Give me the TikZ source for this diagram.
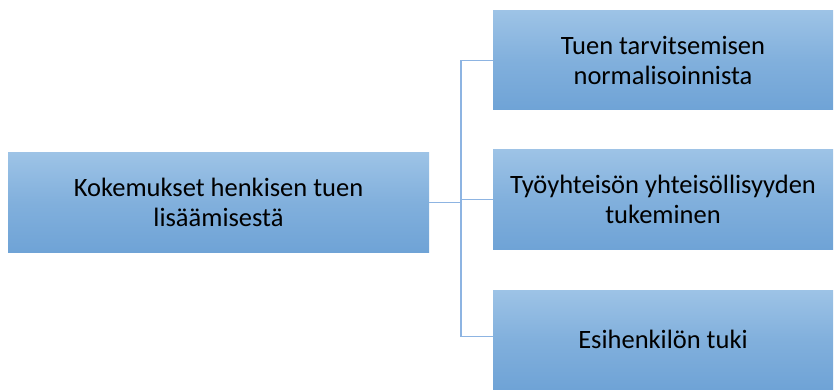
\documentclass[tikz,border=0pt]{standalone}
\usepackage{fontspec}
\setmainfont{Carlito}
\definecolor{boxtop}{HTML}{9DC3E6}
\definecolor{boxbot}{HTML}{6FA3D6}
\definecolor{linec}{HTML}{8DB4E2}
\begin{document}
\begin{tikzpicture}[x=1pt,y=-1pt,
  boxn/.style={rectangle, minimum height=99pt, top color=boxtop, bottom color=boxbot, middle color=boxbot!60!boxtop, shading angle=0, draw=none, align=center, font=\fontsize{26.5}{30.5}\selectfont, inner sep=0pt},
  conn/.style={draw=linec, line width=1.3pt}]
\useasboundingbox (0,0) rectangle (834,390);
\node[boxn, minimum width=421pt] (root) at (218.5,202.5) {Kokemukset henkisen tuen\\lisäämisestä};
\node[boxn, minimum width=340pt] (a) at (663,60.5) {Tuen tarvitsemisen\\normalisoinnista};
\node[boxn, minimum width=340pt] (b) at (663,199.5) {Työyhteisön yhteisöllisyyden\\tukeminen};
\node[boxn, minimum width=340pt] (c) at (663,339.5) {Esihenkilön tuki};
\coordinate (j) at (461,202.5);
\draw[conn] (root.east) -- (j);
\draw[conn] (j) |- (a.west);
\draw[conn] (j) |- (b.west);
\draw[conn] (j) |- ([yshift=3pt]c.west);
\end{tikzpicture}
\end{document}
